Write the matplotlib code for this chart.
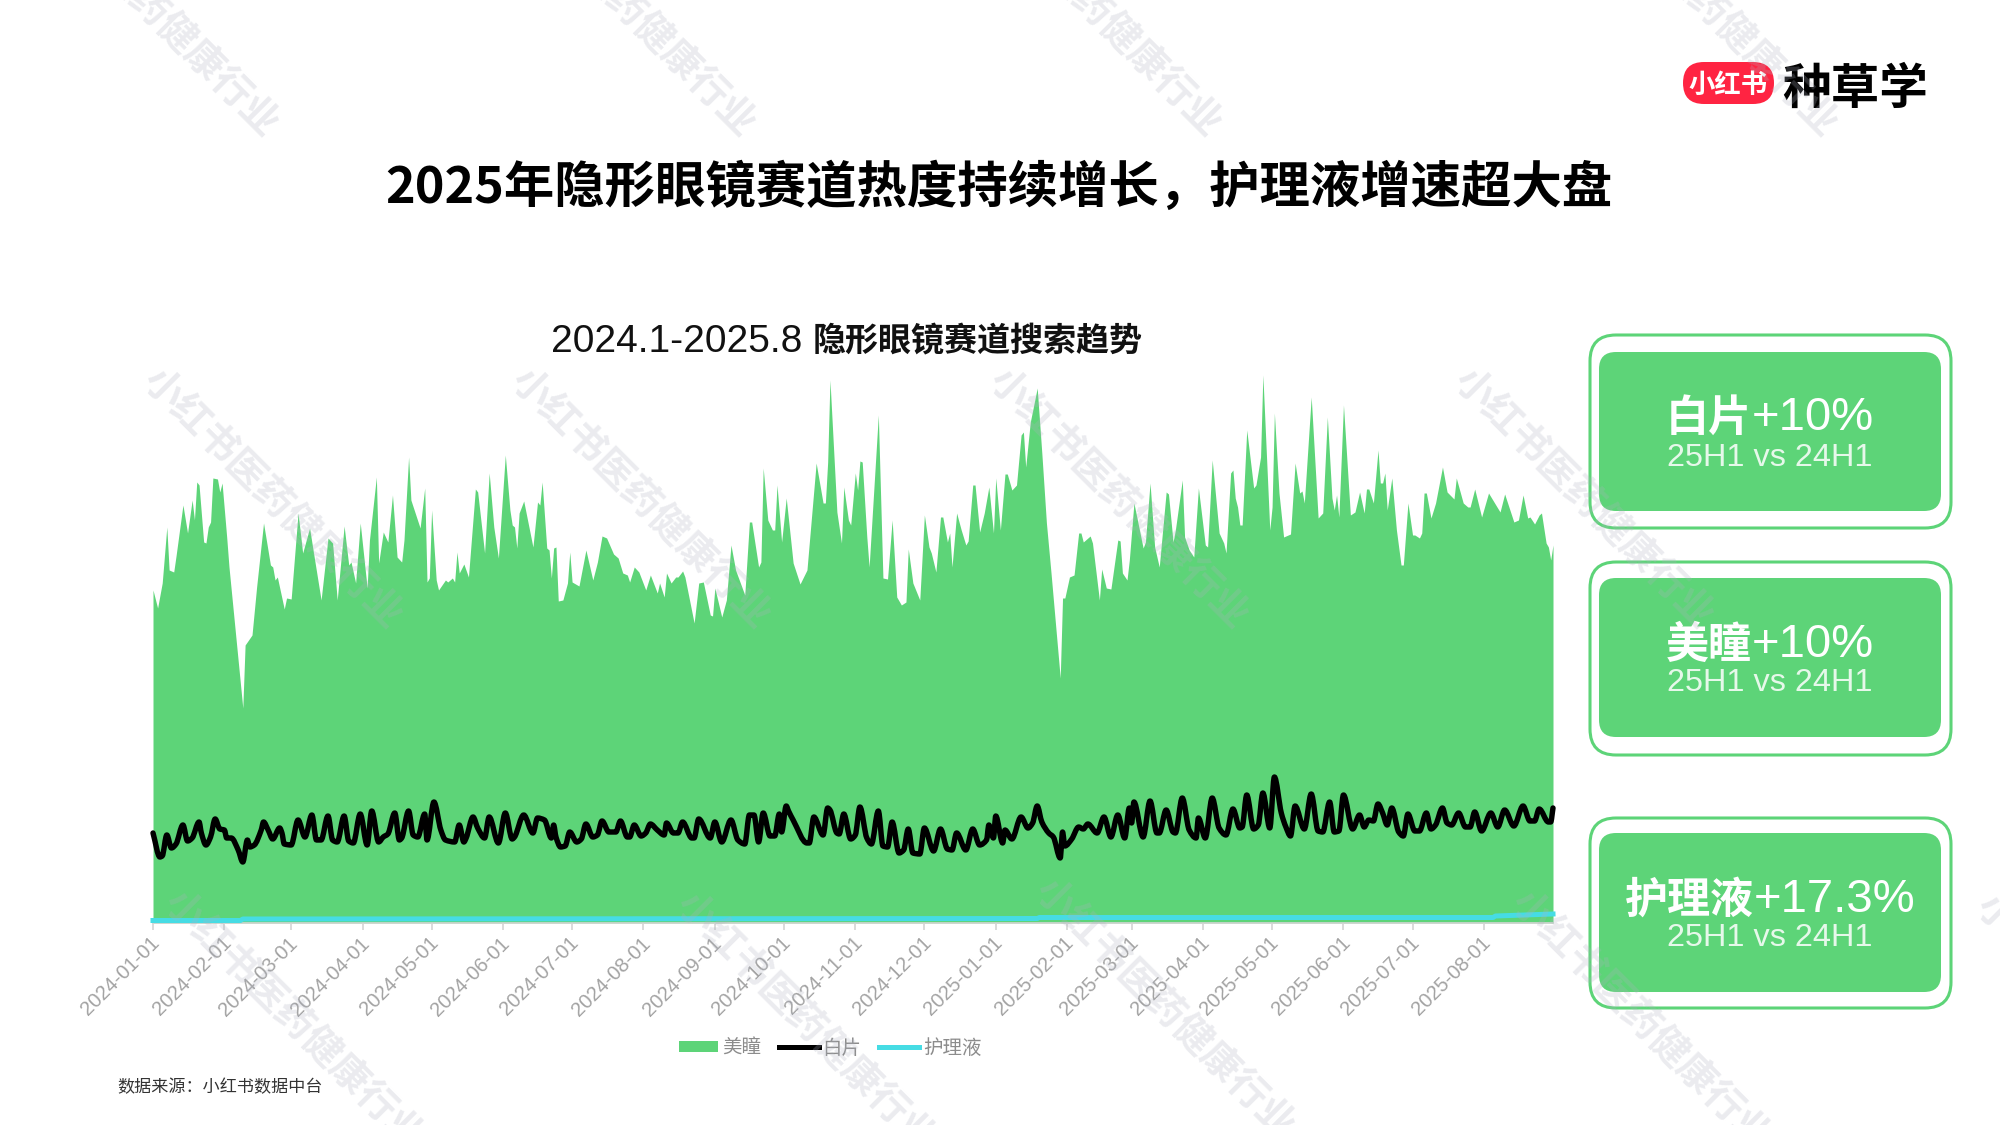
import numpy as np
import matplotlib
matplotlib.use("Agg")
import matplotlib.pyplot as plt
import matplotlib.dates as mdates
from matplotlib.patches import FancyBboxPatch, Patch, PathPatch
from matplotlib.path import Path
from matplotlib.lines import Line2D
from matplotlib.transforms import ScaledTranslation

CJK = ['Noto Sans CJK SC', 'DejaVu Sans']
LAT = ['Liberation Sans', 'Noto Sans CJK SC']
plt.rcParams['font.family'] = CJK

TITLE = "2025年隐形眼镜赛道热度持续增长，护理液增速超大盘"
SUB_LAT = "2024.1-2025.8"
SUB_CJK = "隐形眼镜赛道搜索趋势"
SOURCE = "数据来源：小红书数据中台"
WATERMARK = "小红书医药健康行业"
SERIES_NAMES = ["美瞳", "白片", "护理液"]
CARD_HEADS = ["白片", "美瞳", "护理液"]
CARD_VALUES = ["+10%", "+10%", "+17.3%"]
CARD_SUB = "25H1 vs 24H1"

meitong_days = [0,2,4,6,7,9,10,13,15,17,18,19,20,22,23,24,25,26,28,29,30,32,33,39,40,43,45,48,51,52,53,54,57,58,60,63,65,68,70,73,76,78,80,83,85,86,88,90,93,94,97,98,100,102,104,106,108,109,111,112,116,118,119,120,121,123,124,127,128,130,131,132,133,135,137,140,141,144,146,148,150,153,155,
156,157,158,159,161,165,167,168,169,171,172,173,174,175,176,178,180,181,182,185,188,191,193,195,197,200,201,202,204,206,207,209,211,214,216,219,220,222,223,225,227,228,230,231,235,237,239,242,243,244,247,249,251,253,257,259,260,263,264,265,267,269,270,271,273,275,278,281,284,288,291,292,293,294,297,299,300,302,303,305,306,307,
308,310,311,315,317,319,321,323,325,327,328,330,333,335,337,338,340,342,343,345,346,347,349,351,353,354,356,357,359,361,363,365,366,368,370,371,373,375,377,378,379,381,384,386,388,390,394,395,396,398,400,402,403,404,407,408,411,412,414,416,419,420,421,423,424,426,430,431,433,435,437,440,441,443,444,447,448,450,452,454,
457,458,460,463,465,466,468,469,470,471,472,473,475,478,479,481,482,485,486,487,489,491,494,496,498,499,500,503,506,508,510,512,513,514,515,517,520,522,524,526,527,528,530,532,533,534,535,536,538,540,542,543,545,547,548,550,551,552,553,555,557,560,562,565,566,569,571,572,574,577,580,585,586,587,591,593,595,597,598,600,602,603,605,606,607,608]
meitong_vals = [331,313,338,394,351,349,365,416,388,421,401,439,436,379,378,394,399,443,442,429,438,384,354,213,276,286,334,398,356,354,341,344,312,323,322,408,368,393,364,321,383,378,321,395,356,359,338,398,333,381,444,358,389,379,426,364,359,381,464,421,393,433,339,343,411,341,331,341,339,343,339,369,348,357,344,432,429,368,448,394,363,466,411,
396,394,373,408,420,374,419,416,439,373,371,343,373,374,320,321,338,369,339,335,371,341,359,385,383,367,365,363,348,346,339,354,349,331,346,328,338,324,348,338,344,344,350,344,298,338,339,306,305,333,304,321,376,351,326,399,399,354,359,453,401,391,391,436,379,423,358,337,351,458,418,418,459,541,409,378,434,401,396,448,431,460,
459,384,354,506,343,342,401,324,316,319,372,338,321,406,374,368,349,404,404,379,388,354,408,391,376,380,436,436,389,408,434,388,443,391,447,447,431,436,486,489,454,499,533,468,398,348,243,323,323,344,346,388,388,379,385,378,321,352,333,332,381,380,348,341,361,418,373,379,438,374,354,429,427,379,391,441,384,371,364,433,
376,374,461,388,378,368,448,451,423,414,396,396,491,433,436,464,546,391,414,508,428,384,387,458,428,430,418,524,403,408,504,423,411,426,404,516,406,409,429,408,432,432,418,471,438,438,448,411,443,391,356,356,418,386,386,383,388,428,428,403,418,454,429,422,443,418,414,414,432,404,428,409,418,427,399,401,426,403,404,397,406,408,378,374,361,376]

baipian_days = [0,3,4,6,8,10,13,15,17,20,21,23,25,27,29,31,32,34,37,39,41,42,44,47,48,50,52,55,56,57,60,63,66,69,71,73,76,78,80,83,85,87,90,93,95,98,100,102,105,107,108,111,113,115,118,119,122,125,127,131,133,135,136,139,141,144,146,150,153,
156,157,161,165,167,170,173,174,175,177,179,181,184,186,188,191,193,195,198,201,203,206,207,209,212,214,216,219,222,223,226,228,230,234,235,237,242,244,247,251,254,257,259,261,263,265,268,270,272,273,275,276,278,284,285,287,291,293,294,297,298,300,303,305,307,
310,312,315,317,319,321,324,326,328,330,333,335,339,342,345,347,349,353,356,359,362,363,365,366,369,370,373,377,380,382,384,386,389,391,394,395,396,399,402,404,406,410,413,416,419,422,424,425,426,430,433,436,437,440,443,444,447,450,453,454,457,
460,463,466,469,472,473,475,478,480,482,485,487,490,492,494,496,500,503,506,508,511,513,515,517,521,524,526,528,530,532,534,536,538,541,543,545,548,550,553,555,557,560,562,564,567,570,572,574,577,581,584,587,591,595,598,600,602,606,607,608]
baipian_vals = [88,64,65,86,73,77,96,80,83,99,88,76,84,102,92,91,83,83,71,59,81,74,76,91,99,91,82,93,88,77,76,101,84,106,81,81,105,81,79,105,80,78,107,76,110,79,84,87,108,81,83,110,86,84,107,81,119,91,81,79,96,79,83,104,93,83,104,78,108,
82,84,106,88,103,101,83,96,84,74,75,89,79,82,97,84,86,100,89,89,100,84,84,96,85,88,97,91,86,98,88,88,99,83,83,102,83,99,79,101,81,77,106,106,79,108,85,85,107,89,115,110,101,78,78,104,86,113,111,88,87,107,82,86,114,
83,77,110,75,74,99,68,71,92,68,67,93,70,92,72,71,88,71,92,76,81,96,83,105,78,91,82,104,93,98,115,99,88,84,63,89,75,82,94,92,97,88,104,84,106,83,113,98,119,84,120,88,88,111,89,88,123,91,83,103,83,
123,93,86,112,93,94,126,92,96,128,93,144,108,94,85,115,92,127,90,89,119,89,90,126,92,106,94,101,100,117,108,96,113,89,85,107,90,90,108,92,96,113,98,96,108,94,94,109,90,108,94,111,95,115,100,100,112,99,99,113]

huli_days = [0,38,39,384,385,582,583,608]
huli_vals = [0.5,0.5,2,2.5,3.5,3.5,5,7]

GREEN = '#5DD478'
CYAN = '#46DCE4'
W, H = 2000, 1125
fig = plt.figure(figsize=(20, 11.25), dpi=100, facecolor='white')

# chart
ax = fig.add_axes([153/W, 1-923/H, 1400/W, (923-350)/H], facecolor='none')
base = np.datetime64('2024-01-01')
def to_dates(d):
    return base + np.array(d).astype('timedelta64[D]')

def smooth_path(x, y):
    """Curved segments through the read points (monotone, flat at turning points)."""
    x = np.asarray(x, float)
    y = np.asarray(y, float)
    h = np.diff(x)
    d = np.diff(y) / h
    m = np.zeros_like(y)
    for i in range(1, len(y) - 1):
        if d[i-1] * d[i] > 0:
            m[i] = 2 * d[i-1] * d[i] / (d[i-1] + d[i])
    m[0], m[-1] = d[0], d[-1]
    verts = [(x[0], y[0])]
    codes = [Path.MOVETO]
    for i in range(len(h)):
        verts += [(x[i] + h[i]/3, y[i] + m[i]*h[i]/3),
                  (x[i+1] - h[i]/3, y[i+1] - m[i+1]*h[i]/3),
                  (x[i+1], y[i+1])]
        codes += [Path.CURVE4] * 3
    return Path(verts, codes)

ax.fill_between(to_dates(meitong_days), meitong_vals, -2, color=GREEN, lw=0, zorder=1)
ax.add_patch(PathPatch(smooth_path(mdates.date2num(to_dates(baipian_days)), baipian_vals), fill=False,
                       ec='black', lw=3.9, joinstyle='round', capstyle='round', zorder=2, clip_on=False))
ax.plot(to_dates(huli_days), huli_vals, color=CYAN, lw=3.6, zorder=3, clip_on=False)
ax.set_xlim(base, base + np.timedelta64(608, 'D'))
ax.set_ylim(-2, 571)
ax.xaxis.set_major_locator(mdates.MonthLocator())
ax.xaxis.set_major_formatter(mdates.DateFormatter('%Y-%m-%d'))
ax.tick_params(axis='x', length=5, width=1.2, color='#D4D4D4', pad=2.5)
shift = ScaledTranslation(-3/100, 0, fig.dpi_scale_trans)
for lab in ax.get_xticklabels():
    lab.set(rotation=45, ha='right', va='top', rotation_mode='anchor', fontsize=14.5,
            color='#A3A3A3', family=LAT)
    lab.set_transform(lab.get_transform() + shift)
ax.yaxis.set_visible(False)
for s in ['top', 'left', 'right']:
    ax.spines[s].set_visible(False)
ax.spines['bottom'].set_color('#D4D4D4')
ax.spines['bottom'].set_linewidth(1.2)

# overlay in pixel coordinates
ov = fig.add_axes([0, 0, 1, 1], facecolor='none', zorder=5)
ov.set_xlim(0, W)
ov.set_ylim(H, 0)
ov.axis('off')
renderer = fig.canvas.get_renderer()

def mixed(cx, cy, parts):
    arts = []
    for s, kw in parts:
        arts.append(ov.text(0, cy, s, va='center_baseline', ha='left', **kw))
    ws = [a.get_window_extent(renderer).width for a in arts]
    x = cx - sum(ws) / 2
    for a, w in zip(arts, ws):
        a.set_x(x)
        x += w

ov.text(999, 188, TITLE, ha='center', va='center', fontsize=36.3, fontweight='bold', color='black', family=CJK)
mixed(847, 338, [(SUB_LAT + " ", dict(fontsize=28, family=LAT, color='#111111')),
                 (SUB_CJK, dict(fontsize=23.8, fontweight='bold', family=CJK, color='#111111'))])

# logo
ov.add_patch(FancyBboxPatch((1683, 62), 91, 42, boxstyle="round,pad=0,rounding_size=21", fc='#FF2442', ec='none'))
ov.text(1728, 85, "小红书", ha='center', va='center', fontsize=19, fontweight='bold', color='white', family=CJK)
ov.text(1855, 89, "种草学", ha='center', va='center', fontsize=35, fontweight='bold', color='black', family=CJK)

# cards
outer = [(335, 528), (562, 755), (818, 1008)]
inner = [(352, 511), (578, 737), (833, 992)]
heads_y = [413, 640, 895]
subs_y = [458, 683, 938]
for (o0, o1), (i0, i1), head, val, hy, sy in zip(outer, inner, CARD_HEADS, CARD_VALUES, heads_y, subs_y):
    ov.add_patch(FancyBboxPatch((1590, o0), 361, o1-o0, boxstyle="round,pad=0,rounding_size=26", fc='white', ec=GREEN, lw=2.2))
    ov.add_patch(FancyBboxPatch((1599, i0), 342, i1-i0, boxstyle="round,pad=0,rounding_size=17", fc=GREEN, ec='none'))
    mixed(1770, hy, [(head, dict(fontsize=31, fontweight='bold', family=CJK, color='white')),
                     (val, dict(fontsize=34, family=LAT, color='white'))])
    ov.text(1770, sy, CARD_SUB, ha='center', va='center', fontsize=23.3, family=LAT, color='#E6F8EA')

# legend
handles = [Patch(fc=GREEN, ec='none'), Line2D([], [], color='black', lw=3.6), Line2D([], [], color=CYAN, lw=3.6)]
leg = ov.legend(handles, SERIES_NAMES, ncol=3, loc='center', bbox_to_anchor=(830/W, 1-1048/H),
                bbox_transform=fig.transFigure, frameon=False, fontsize=14, handlelength=2.05, handleheight=0.55,
                handletextpad=0.2, columnspacing=0.9, labelcolor='#8C8C8C', borderpad=0)

ov.text(117, 1087, SOURCE, ha='left', va='center', fontsize=12.3, color='#333333', family=CJK)

# watermarks
wm_centers = [(148, 6), (625, 6), (1091, 6), (1707, 6),
              (272, 498), (640, 498), (1118, 498), (1583, 498),
              (293, 1020), (805, 1022), (1164, 1008), (1640, 1020), (2105, 1024)]
for cx, cy in wm_centers:
    ov.text(cx, cy, WATERMARK, rotation=-45, rotation_mode='anchor', ha='center', va='center', fontsize=28,
            color='#AEB2C0', alpha=0.25, fontweight='bold', family=CJK, zorder=20, clip_on=True)

fig.savefig('out.png', dpi=100)
